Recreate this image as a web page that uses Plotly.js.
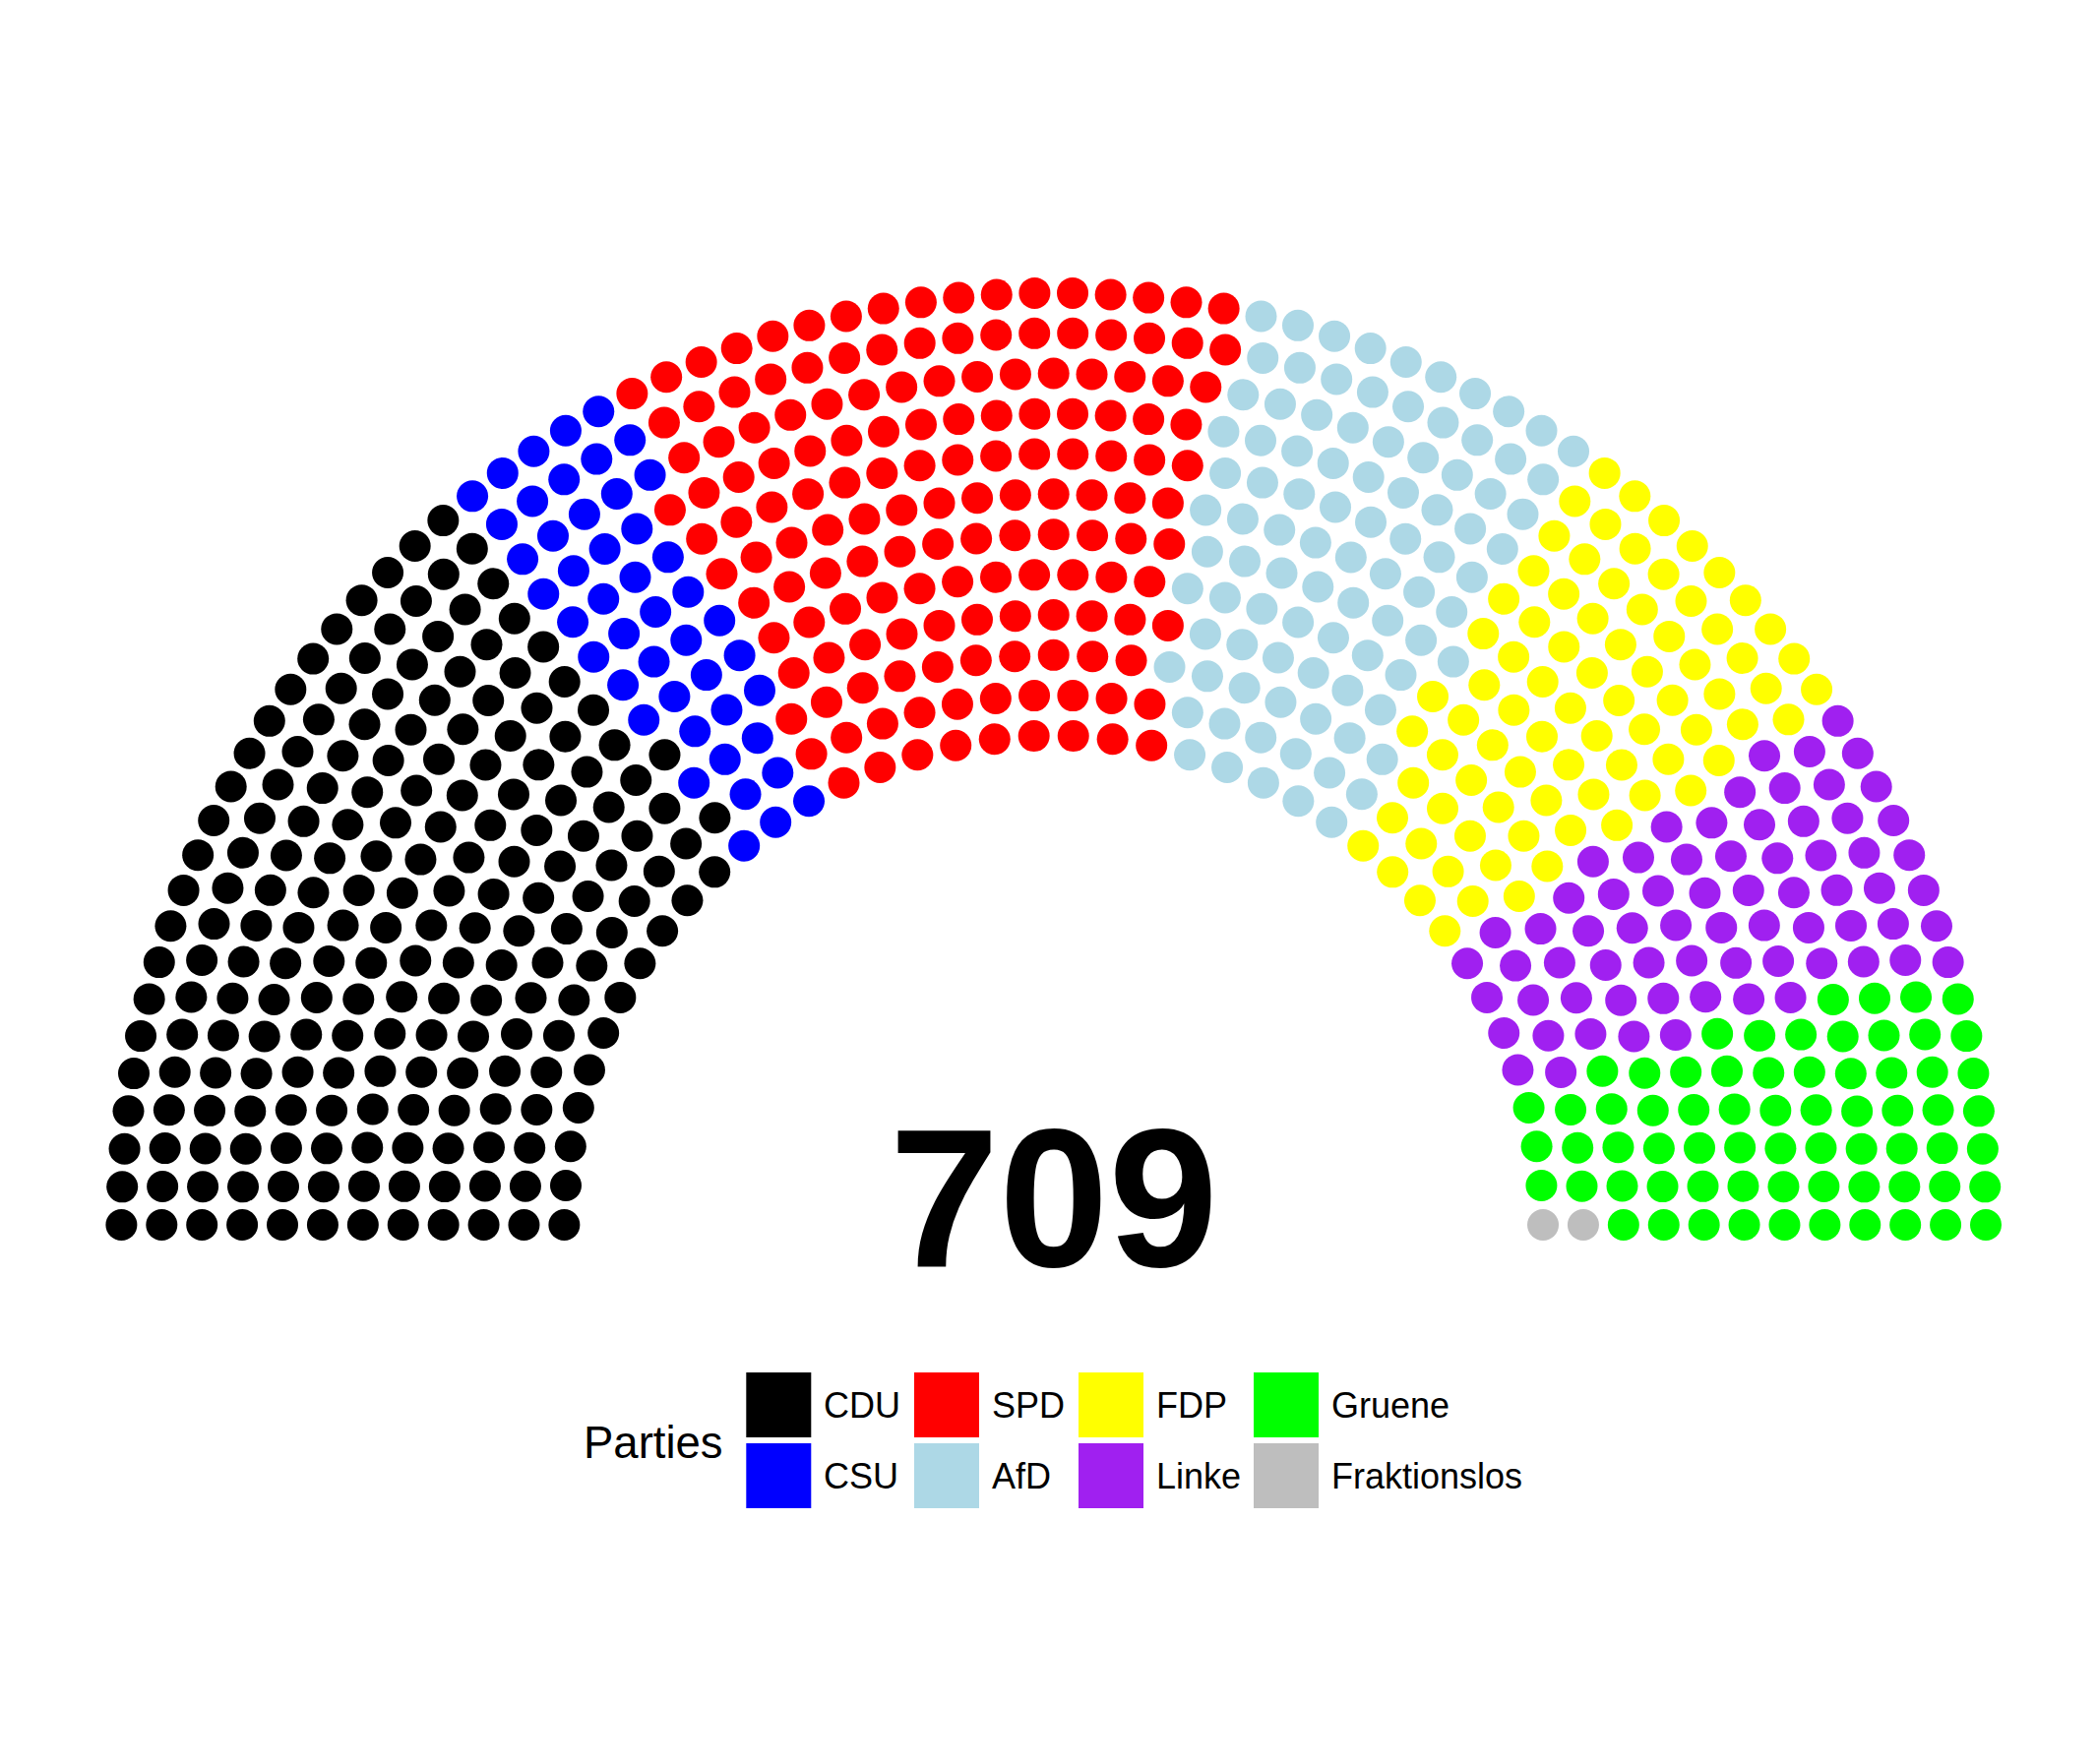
<!DOCTYPE html>
<html>
<head>
<meta charset="utf-8">
<script src="https://cdn.plot.ly/plotly-3.0.1.min.js"></script>
<style>html,body{margin:0;padding:0;background:#ffffff;}</style>
</head>
<body>
<div id="chart" style="width:2131px;height:1793px;"></div>
<script>
// ---- data ----
const parties = ['CDU', 'CSU', 'SPD', 'AfD', 'FDP', 'Linke', 'Gruene', 'Fraktionslos'];
const seats = [200, 46, 153, 92, 80, 69, 67, 2];
const partyColors = ['#000000', '#0000FF', '#FF0000', '#ADD8E6', '#FFFF00', '#A020F0', '#00FF00', '#BEBEBE'];
const rowSeats = [40, 44, 47, 51, 54, 57, 61, 64, 68, 71, 74, 78]; // seats per row, inner to outer
const legendTitle = 'Parties';

// ---- layout constants ----
const W = 2131, H = 1793;
const innerR = 1.05, outerR = 2.0;
const FONT = 'Liberation Sans, Arial, Helvetica, sans-serif';

// seat positions (semicircle parliament layout)
const nRows = rowSeats.length;
const pts = [];
rowSeats.forEach((n, i) => {
  const r = innerR + (outerR - innerR) * i / (nRows - 1);
  for (let j = 0; j < n; j++) {
    const frac = j / (n - 1);
    const theta = Math.PI * (1 - frac);
    pts.push({x: r * Math.cos(theta), y: r * Math.sin(theta), row: i, frac: frac});
  }
});
pts.sort((a, b) => (a.frac - b.frac) || (b.row - a.row));

const traces = [];
let k = 0;
parties.forEach((p, pi) => {
  const xs = [], ys = [];
  for (let s = 0; s < seats[pi]; s++) { xs.push(pts[k].x); ys.push(pts[k].y); k++; }
  traces.push({
    type: 'scatter', mode: 'markers', name: p, x: xs, y: ys,
    marker: {size: 32, color: partyColors[pi], line: {width: 0}},
    hoverinfo: 'name', showlegend: false
  });
});

// helpers for pixel -> paper
const px = v => v / W;
const py = v => 1 - v / H;

// legend (2 rows, column-major)
const colLeft = [758.3, 929, 1096, 1274];
const rowTop = [1395, 1467];
const keySize = 66;
const shapes = [];
const annotations = [];
parties.forEach((p, i) => {
  const c = Math.floor(i / 2), r = i % 2;
  const x0 = colLeft[c], y0 = rowTop[r];
  shapes.push({type: 'rect', xref: 'paper', yref: 'paper',
    x0: px(x0), x1: px(x0 + keySize), y0: py(y0 + keySize), y1: py(y0),
    fillcolor: partyColors[i], line: {width: 0}});
  annotations.push({xref: 'paper', yref: 'paper', x: px(x0 + 76.5), y: py(y0 + keySize / 2 + 0.5),
    xanchor: 'left', yanchor: 'middle', showarrow: false, text: p,
    font: {family: FONT, size: 36, color: '#000000'}});
});
annotations.push({xref: 'paper', yref: 'paper', x: px(590.5), y: py(1466.5),
  xanchor: 'left', yanchor: 'middle', showarrow: false, text: legendTitle,
  font: {family: FONT, size: 45.5, color: '#000000'}});

// total seats in the middle
const total = seats.reduce((a, b) => a + b, 0);
annotations.push({xref: 'x', yref: 'y', x: 0, y: 0.059, xanchor: 'center', yanchor: 'middle',
  showarrow: false, text: '<b>' + total + '</b>',
  font: {family: FONT, size: 200, color: '#000000'}});

const kpx = 947.3 / 2; // pixels per data unit
const cx = 1070.7, cy = 1245;
const layout = {
  width: W, height: H,
  margin: {l: 0, r: 0, t: 0, b: 0, pad: 0},
  paper_bgcolor: '#ffffff', plot_bgcolor: '#ffffff',
  xaxis: {range: [-cx / kpx, (W - cx) / kpx], visible: false, fixedrange: true},
  yaxis: {range: [-(H - cy) / kpx, cy / kpx], visible: false, fixedrange: true},
  showlegend: false,
  shapes: shapes,
  annotations: annotations
};

Plotly.newPlot('chart', traces, layout, {displayModeBar: false, responsive: false});
</script>
</body>
</html>
